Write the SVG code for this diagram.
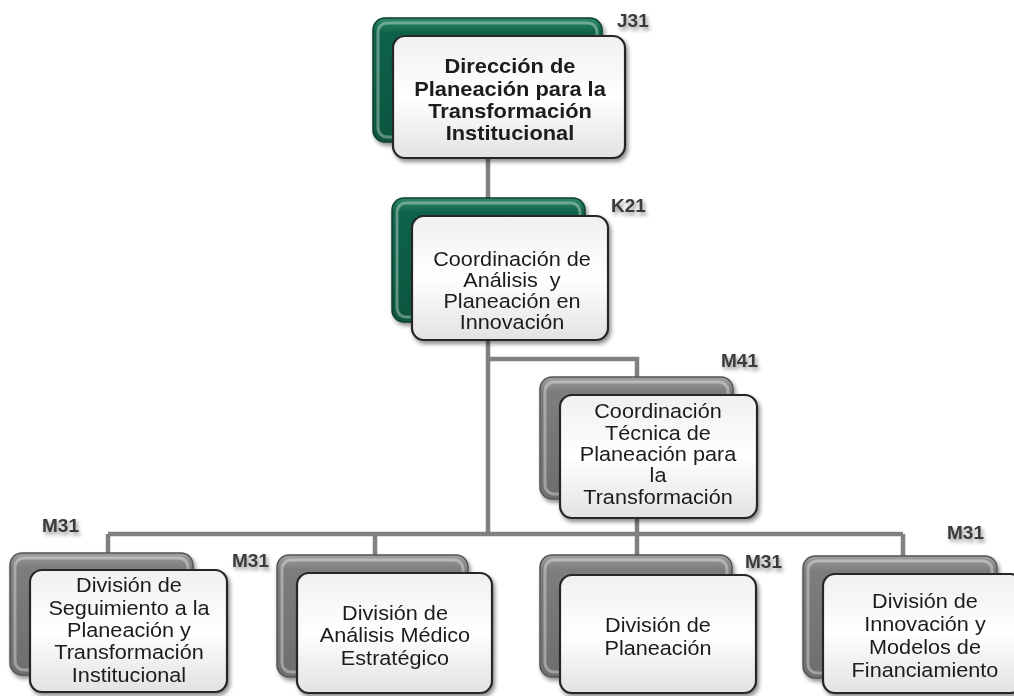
<svg xmlns="http://www.w3.org/2000/svg" width="1014" height="696" viewBox="0 0 1014 696">
<defs>
<linearGradient id="gGreen" x1="0" y1="0" x2="0" y2="1">
<stop offset="0" stop-color="#2f8a6c"/>
<stop offset="0.12" stop-color="#0f6249"/>
<stop offset="1" stop-color="#0a5640"/>
</linearGradient>
<linearGradient id="gGray" x1="0" y1="0" x2="0" y2="1">
<stop offset="0" stop-color="#a0a0a0"/>
<stop offset="0.12" stop-color="#7d7d7d"/>
<stop offset="1" stop-color="#6e6e6e"/>
</linearGradient>
<linearGradient id="gFront" x1="0" y1="0" x2="0" y2="1">
<stop offset="0" stop-color="#f0f0f0"/>
<stop offset="0.5" stop-color="#ffffff"/>
<stop offset="1" stop-color="#e2e2e2"/>
</linearGradient>
<filter id="sh" x="-10%" y="-10%" width="125%" height="130%">
<feGaussianBlur in="SourceAlpha" stdDeviation="2"/>
<feOffset dx="2" dy="3" result="o"/>
<feComponentTransfer><feFuncA type="linear" slope="0.45"/></feComponentTransfer>
<feMerge><feMergeNode/><feMergeNode in="SourceGraphic"/></feMerge>
</filter>
</defs>
<style>
.bg{fill:url(#gGreen);stroke:#0a3f2f;stroke-width:1.5}
.bk{fill:url(#gGray);stroke:#555;stroke-width:1.5}
.hl{fill:none;stroke:#ffffff;stroke-opacity:0.35;stroke-width:3}
.fr{fill:url(#gFront);stroke:#262626;stroke-width:2.2}
.t{font-family:"Liberation Sans",Arial,sans-serif;font-size:19.5px;fill:#1a1a1a;text-anchor:middle}
.tb{font-weight:bold}
.lb{font-family:"Liberation Sans",Arial,sans-serif;font-size:19px;font-weight:bold;fill:#3a3a3a}
.cn{fill:none;stroke:#808080;stroke-width:4.5}
</style>

<g id="connectors">
<path class="cn" d="M488,158 V198"/>
<path class="cn" d="M488,340 V534"/>
<path class="cn" d="M488,359 H637 V377"/>
<path class="cn" d="M637,518 V555"/>
<path class="cn" d="M108,534 H903"/>
<path class="cn" d="M108,534 V553"/>
<path class="cn" d="M375,534 V555"/>
<path class="cn" d="M903,534 V556"/>
</g>

<g id="J31" filter="url(#sh)">
<rect class="bg" x="373" y="18" width="229" height="124" rx="12"/>
<rect class="hl" x="378" y="23" width="219" height="114" rx="9"/>
<rect class="fr" x="393" y="36" width="232" height="122" rx="12"/>
<g transform="translate(510,0) scale(1.12,1) translate(-510,0)">
<text class="t tb" x="510" y="73">Dirección de</text>
<text class="t tb" x="510" y="96">Planeación para la</text>
<text class="t tb" x="510" y="118">Transformación</text>
<text class="t tb" x="510" y="140">Institucional</text>
</g>
<text class="lb" x="617" y="27">J31</text>
</g>

<g id="K21" filter="url(#sh)">
<rect class="bg" x="392" y="198" width="193" height="124" rx="12"/>
<rect class="hl" x="397" y="203" width="183" height="114" rx="9"/>
<rect class="fr" x="412" y="216" width="196" height="124" rx="12"/>
<g transform="translate(512,0) scale(1.11,1) translate(-512,0)">
<text class="t" x="512" y="266">Coordinación de</text>
<text class="t" x="512" y="287" xml:space="preserve">Análisis  y</text>
<text class="t" x="512" y="308">Planeación en</text>
<text class="t" x="512" y="329">Innovación</text>
</g>
<text class="lb" x="611" y="212">K21</text>
</g>

<g id="M41" filter="url(#sh)">
<rect class="bk" x="540" y="377" width="193" height="122" rx="12"/>
<rect class="hl" x="545" y="382" width="183" height="112" rx="9"/>
<rect class="fr" x="560" y="395" width="197" height="123" rx="12"/>
<g transform="translate(658,0) scale(1.11,1) translate(-658,0)">
<text class="t" x="658" y="418">Coordinación</text>
<text class="t" x="658" y="440">Técnica de</text>
<text class="t" x="658" y="461">Planeación para</text>
<text class="t" x="658" y="482">la</text>
<text class="t" x="658" y="504">Transformación</text>
</g>
<text class="lb" x="721" y="367">M41</text>
</g>

<g id="M31a" filter="url(#sh)">
<rect class="bk" x="10" y="553" width="183" height="122" rx="12"/>
<rect class="hl" x="15" y="558" width="173" height="112" rx="9"/>
<rect class="fr" x="30" y="570" width="197" height="122" rx="12"/>
<g transform="translate(129,0) scale(1.11,1) translate(-129,0)">
<text class="t" x="129" y="592">División de</text>
<text class="t" x="129" y="615">Seguimiento a la</text>
<text class="t" x="129" y="637">Planeación y</text>
<text class="t" x="129" y="659">Transformación</text>
<text class="t" x="129" y="682">Institucional</text>
</g>
<text class="lb" x="42" y="532">M31</text>
</g>

<g id="M31b" filter="url(#sh)">
<rect class="bk" x="277" y="555" width="191" height="122" rx="12"/>
<rect class="hl" x="282" y="560" width="181" height="112" rx="9"/>
<rect class="fr" x="297" y="573" width="195" height="120" rx="12"/>
<g transform="translate(395,0) scale(1.11,1) translate(-395,0)">
<text class="t" x="395" y="620">División de</text>
<text class="t" x="395" y="642">Análisis Médico</text>
<text class="t" x="395" y="665">Estratégico</text>
</g>
<text class="lb" x="232" y="567">M31</text>
</g>

<g id="M31c" filter="url(#sh)">
<rect class="bk" x="540" y="555" width="192" height="122" rx="12"/>
<rect class="hl" x="545" y="560" width="182" height="112" rx="9"/>
<rect class="fr" x="560" y="575" width="196" height="118" rx="12"/>
<g transform="translate(658,0) scale(1.11,1) translate(-658,0)">
<text class="t" x="658" y="632">División de</text>
<text class="t" x="658" y="655">Planeación</text>
</g>
<text class="lb" x="745" y="568">M31</text>
</g>

<g id="M31d" filter="url(#sh)">
<rect class="bk" x="803" y="556" width="194" height="122" rx="12"/>
<rect class="hl" x="808" y="561" width="184" height="112" rx="9"/>
<rect class="fr" x="823" y="574" width="200" height="119" rx="12"/>
<g transform="translate(925,0) scale(1.11,1) translate(-925,0)">
<text class="t" x="925" y="608">División de</text>
<text class="t" x="925" y="631">Innovación y</text>
<text class="t" x="925" y="654">Modelos de</text>
<text class="t" x="925" y="677">Financiamiento</text>
</g>
<text class="lb" x="947" y="539">M31</text>
</g>
</svg>
